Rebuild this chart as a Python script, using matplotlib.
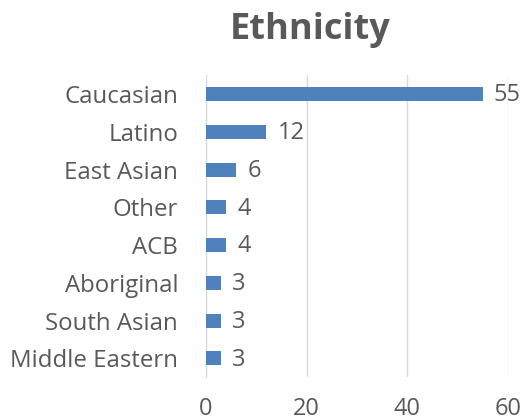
import matplotlib.pyplot as plt

plt.rcParams["font.family"] = ["Open Sans", "DejaVu Sans"]

# data, top to bottom as shown
categories = ["Caucasian", "Latino", "East Asian", "Other", "ACB",
              "Aboriginal", "South Asian", "Middle Eastern"]
counts = [55, 12, 6, 4, 4, 3, 3, 3]
x_ticks = [0, 20, 40, 60]

TEXT = "#595959"
BAR = "#4F81BD"

fig = plt.figure(figsize=(5.24, 4.2), dpi=100)
ax = fig.add_axes([0.393, 0.102, 0.576, 0.719])

ypos = list(range(len(categories)))
ax.barh(ypos, counts, height=0.37, color=BAR, zorder=3)
for y, v in zip(ypos, counts):
    ax.annotate(str(v), (v, y), xytext=(8, -1), textcoords="offset points",
                va="center", ha="left", fontsize=17, color=TEXT)

ax.set_ylim(len(categories) - 0.5, -0.5)
ax.set_xlim(0, 60)
ax.set_yticks(ypos)
ax.set_yticklabels(categories, fontsize=17.3, color=TEXT)
ax.set_xticks(x_ticks)
ax.set_xticklabels([str(t) for t in x_ticks], fontsize=17, color=TEXT)
ax.tick_params(axis="both", length=0)
ax.tick_params(axis="y", pad=20)
ax.tick_params(axis="x", pad=14)

ax.grid(axis="x", color="#d9d9d9", linewidth=1, zorder=0)
for s in ["top", "right", "bottom"]:
    ax.spines[s].set_visible(False)
ax.spines["left"].set_color("#d9d9d9")

fig.text(0.592, 0.928, "Ethnicity", ha="center", va="center",
         fontsize=26, fontweight="bold", color=TEXT)

fig.savefig("out.png", dpi=100)
